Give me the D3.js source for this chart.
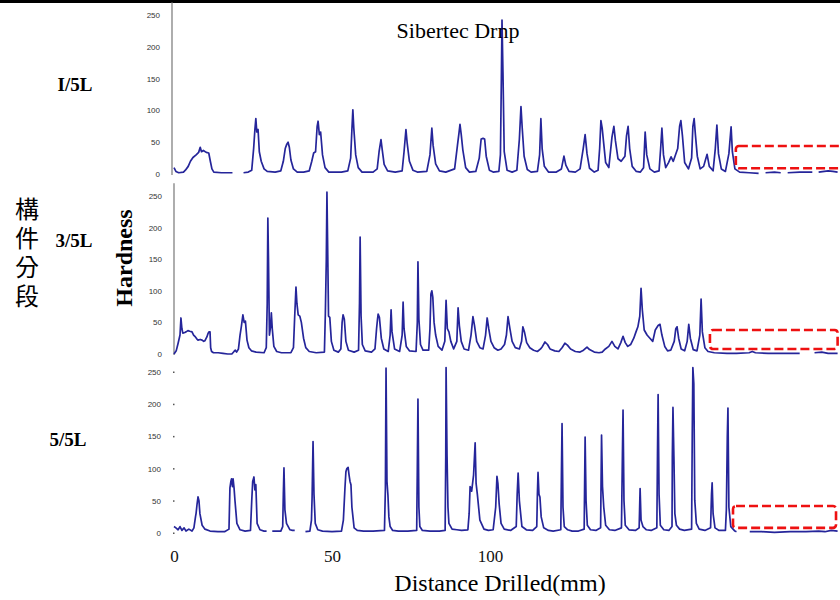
<!DOCTYPE html>
<html>
  <head>
    <meta charset="utf-8" />
    <script src="https://d3js.org/d3.v7.min.js"></script>
    <style>
      body { margin: 0; background: #fff; }
    </style>
  </head>
  <body>
    <div id="my_dataviz"></div>

    <script>
      // tick values and labels
      var distTicks = [0, 50, 100];
      var hardTicks = [0, 50, 100, 150, 200, 250];
      var panelLabels = ["I/5L", "3/5L", "5/5L"];
      var sideLabel = "構件分段";

      // hardness traces: [distance mm, hardness], null = gap
      var trace1 = [[0,10],[0.6,4],[1.5,2],[3,3],[3.6,6],[4.5,12],[5.2,20],[6,26],[7,30],[7.8,34],[8.3,42],[8.7,35],[9.3,37],[10.2,34],[11,33],[11.5,20],[12,8],[12.6,3],[15,2],[18.5,2],[18.7,null],[21.8,null],[22,2],[23.5,3],[24.6,6],[25.2,40],[25.6,70],[25.9,87],[26.2,66],[26.6,70],[27,35],[27.6,20],[28.5,8],[29.5,4],[32,3],[33.8,5],[34.6,20],[35.2,40],[35.7,47],[36.1,50],[36.5,42],[37,22],[37.8,8],[39,3],[41,3],[42.8,5],[43.6,20],[44.2,33],[44.8,35],[45.3,75],[45.6,83],[46,62],[46.4,66],[47,30],[47.8,10],[49,3],[53,3],[55,5],[55.9,25],[56.3,70],[56.6,101],[56.9,72],[57.5,30],[58.3,10],[59.5,3],[63,3],[64.3,8],[64.9,35],[65.5,54],[65.9,38],[66.5,15],[67.6,5],[70,3],[72.2,5],[72.8,35],[73.4,70],[73.8,48],[74.5,20],[75.6,6],[77,3],[80,4],[81,30],[81.6,72],[82,45],[82.8,16],[84,5],[86,3],[88.8,8],[89.7,45],[90.2,65],[90.5,78],[90.9,62],[91.4,38],[92.3,10],[93.5,3],[95.5,4],[96.6,25],[97.2,55],[97.8,56],[98.3,55],[98.8,28],[99.8,6],[101,3],[102.8,4],[103.3,30],[103.6,150],[103.8,242],[104.1,160],[104.5,35],[105.4,6],[107,3],[108.5,6],[109.3,55],[109.8,106],[110.2,72],[110.8,28],[111.8,7],[113,3],[115,4],[115.7,30],[116.1,87],[116.5,40],[117.2,12],[118.5,3],[121,3],[122.6,8],[123.4,28],[124,14],[125,4],[127,3],[128.5,8],[129.5,40],[130.1,62],[130.7,32],[131.5,9],[133,3],[134.2,6],[134.7,40],[135.1,84],[135.5,72],[135.9,52],[136.6,18],[137.6,10],[138.6,58],[139.2,75],[139.7,52],[140.5,24],[141.5,20],[142.7,28],[143.2,60],[143.7,75],[144.2,40],[145,12],[146.3,4],[147.6,3],[148.6,10],[149.1,66],[149.6,30],[150.6,8],[152,3],[153.5,5],[154,40],[154.4,72],[154.9,30],[155.6,10],[156.5,18],[157.3,27],[158,20],[159.4,40],[160,75],[160.4,84],[160.9,60],[161.6,18],[162.8,8],[163.8,25],[164.2,75],[164.6,87],[165,62],[165.6,28],[166.5,8],[167.6,12],[168.7,31],[169.4,12],[170.6,5],[171.3,40],[171.8,77],[172.3,32],[173.2,8],[174.5,4],[175.6,32],[176.3,74],[176.7,35],[177.5,8],[179,3],[182,2],[185,1],[185.2,null],[187,null],[187.2,2],[190,3],[192,2],[192.2,null],[194,null],[194.2,2],[198,3],[202,3],[202.2,null],[203.8,null],[204,3],[207,5],[208.5,4],[210,3]];

      var trace3 = [[0,0],[0.7,5],[1.3,17],[1.9,30],[2.2,57],[2.5,40],[2.8,33],[3.4,34],[3.8,35],[4.4,37],[5,36],[5.7,35],[6.2,30],[6.6,28],[7.2,24],[7.6,22],[8.3,23],[8.9,22],[9.4,20],[9.8,21],[10.4,27],[10.8,33],[11.1,35],[11.4,35],[11.6,10],[11.9,4],[12.5,2],[14,2],[15.5,1],[17,0],[18.3,0],[19,4],[19.4,6],[19.8,3],[20.4,8],[20.9,30],[21.3,43],[21.8,62],[22.2,50],[22.6,52],[23.1,22],[23.7,10],[24.5,5],[26,3],[28.5,2],[29.2,10],[29.5,80],[29.7,215],[29.9,150],[30.2,30],[30.6,45],[30.8,65],[31.1,40],[31.6,12],[32.5,4],[34,2],[37,2],[37.8,10],[38.2,60],[38.6,106],[38.9,80],[39.3,62],[39.8,60],[40.3,50],[41,25],[41.7,10],[42.8,4],[45,2],[47.6,3],[47.9,65],[48.2,150],[48.4,256],[48.6,180],[48.9,60],[49.3,58],[49.8,20],[50.6,6],[52,3],[52.8,8],[53.2,50],[53.5,62],[53.9,55],[54.4,20],[55.2,6],[57,3],[58.4,6],[58.7,80],[58.9,185],[59.2,60],[59.6,15],[60.5,5],[62.5,3],[63.6,8],[64.1,40],[64.4,55],[64.6,63],[65,58],[65.6,25],[66.4,8],[67.8,4],[68.4,30],[68.7,70],[69,35],[69.8,8],[71.4,4],[72.2,30],[72.5,82],[72.8,40],[73.5,12],[74.5,5],[76.6,4],[77,50],[77.2,146],[77.5,55],[78,15],[78.8,6],[80.6,6],[81,40],[81.3,95],[81.6,100],[81.9,90],[82.3,50],[82.8,30],[83.6,12],[84.8,6],[85.7,20],[86.1,85],[86.5,40],[87,35],[87.6,20],[88.5,8],[89.5,20],[89.9,73],[90.3,45],[90.9,20],[91.8,8],[93.2,6],[94,30],[94.6,59],[95.1,45],[95.8,20],[96.8,10],[97.8,8],[98.6,30],[99.1,57],[99.6,40],[100.3,20],[101.3,10],[102.5,6],[103.5,8],[104.6,15],[105.2,30],[105.7,59],[106.3,40],[107,20],[108,10],[109.3,8],[110,20],[110.4,43],[110.9,35],[111.6,18],[112.6,10],[113.8,6],[115,4],[116,8],[116.6,12],[117.4,19],[118.2,15],[119,8],[120.5,5],[121.8,4],[122.8,10],[123.7,17],[124.5,14],[125.5,8],[127,4],[128.5,3],[129.6,6],[130.7,11],[131.5,7],[133,3],[134.5,2],[135.5,3],[136.5,8],[137.6,12],[138.6,20],[139.5,12],[140.5,8],[141.4,18],[142.1,28],[142.8,18],[143.6,12],[144.5,15],[145.5,25],[146.2,35],[146.8,43],[147.4,60],[147.8,104],[148.2,70],[148.8,38],[149.7,30],[150.6,25],[151.5,20],[152.3,38],[153.2,45],[153.8,47],[154.4,30],[155.3,12],[156.2,5],[157.2,6],[158.3,20],[158.8,40],[159.2,43],[159.7,25],[160.5,8],[161.6,5],[162.4,20],[162.9,47],[163.4,25],[164.3,7],[165.5,5],[166.4,30],[166.8,87],[167.2,35],[168,10],[169,4],[171,2],[175,1],[178,1],[182,2],[183,4],[184,2],[188,1],[194,1],[198,1],[198.2,null],[202.5,null],[202.7,2],[205,3],[207,1],[210,1]];

      var trace5 = [[0,10],[0.6,8],[1.3,5],[1.9,10],[2.5,4],[3.2,8],[3.8,3],[4.7,6],[5.7,3],[6.3,8],[6.8,25],[7,31],[7.3,45],[7.6,56],[7.9,50],[8.2,30],[8.9,12],[9.8,6],[11.4,3],[13.9,2],[16,2],[17.4,6],[17.7,70],[18,80],[18.2,84],[18.5,72],[18.7,84],[19,70],[19.3,50],[19.9,15],[20.9,5],[22.5,3],[24.2,4],[24.6,50],[24.9,80],[25.3,87],[25.6,67],[25.9,75],[26.3,15],[27.2,5],[28.5,3],[29.3,3],[29.4,null],[31,null],[31.1,3],[33.8,3],[34.4,10],[34.6,60],[34.8,101],[35.1,36],[35.6,15],[36.7,5],[37.5,4],[38.2,4],[38.3,null],[41.5,null],[41.6,2],[43,3],[43.5,20],[43.7,55],[44,142],[44.3,60],[44.7,15],[45.5,5],[47,3],[50,2],[53,3],[53.6,20],[54.1,70],[54.4,95],[54.7,100],[55.1,102],[55.4,90],[55.7,80],[56,75],[56.3,40],[57,8],[58,4],[60,3],[63,3],[66.6,4],[66.9,70],[67.1,256],[67.4,80],[67.7,59],[68,25],[68.4,10],[69.2,4],[71,3],[74,3],[76.8,4],[77,100],[77.2,208],[77.5,40],[77.8,10],[78.6,4],[81,3],[84,3],[85.8,4],[86,120],[86.1,257],[86.4,121],[86.7,40],[87,15],[88,6],[89.5,5],[91,4],[93,5],[93.4,30],[93.7,72],[94.2,65],[94.8,90],[95.3,140],[95.6,77],[96,60],[96.8,20],[98.1,6],[99.5,4],[101,5],[101.8,40],[102.2,88],[102.5,77],[102.9,45],[103.5,15],[104.5,6],[106.5,4],[108.3,10],[108.6,60],[108.9,93],[109.3,50],[110.1,10],[111.5,5],[113.5,4],[114.8,10],[115,60],[115.2,94],[115.5,60],[115.8,56],[116.2,25],[117,8],[118.5,4],[120,3],[122.4,5],[122.6,90],[122.8,170],[123.1,40],[123.5,10],[124.6,5],[126,3],[128,3],[129.8,6],[130.1,149],[130.4,50],[130.8,12],[131.8,5],[133.5,4],[135,8],[135.3,152],[135.6,72],[136,40],[136.6,12],[137.8,5],[139.5,4],[141.6,8],[141.9,120],[142.1,191],[142.4,50],[142.8,12],[144,5],[146,4],[147.2,8],[147.5,69],[147.8,20],[148.4,10],[149.5,5],[151,4],[152.8,8],[153,120],[153.2,215],[153.5,60],[153.9,12],[155,5],[156.6,4],[157.6,10],[157.7,118],[157.9,195],[158.2,118],[158.5,30],[159,12],[160,6],[161.5,4],[163.8,6],[164,150],[164.2,257],[164.5,232],[164.8,51],[165.3,15],[166.2,6],[168,4],[169.8,8],[170.1,60],[170.3,78],[170.6,30],[171.2,8],[172.5,4],[174.5,4],[174.8,36],[175.1,150],[175.3,194],[175.6,40],[176.2,10],[177.5,3],[178,2],[178.2,null],[182,null],[182.2,2],[186,2],[190,1],[195,2],[200,2],[204,3],[206,2],[208,4],[210,3]];

      // dashed red boxes marking the tail of each trace: [x0 mm, x1 mm, hardness low, hardness high]
      var boxes = [[177.8, 214, 9, 44], [169.6, 210, 8, 38], [176.9, 209.5, 8, 42]];

      var width = 840, height = 600;

      var svg = d3
        .select("#my_dataviz")
        .append("svg")
        .attr("width", width)
        .attr("height", height)
        .style("font-family", "'Liberation Serif', serif");

      svg.append("rect").attr("width", width).attr("height", height).attr("fill", "#fff");
      // dark strip along the top edge of the scan
      svg.append("rect").attr("width", width).attr("height", 3).attr("fill", "#000");

      var x = d3.scaleLinear().domain([0, 210]).range([174, 837.6]);

      var panels = [
        { data: trace1, y0: 174, y1: 15, axisX: 172, axisLine: true, labelY: 91, labelX: 75 },
        { data: trace3, y0: 354, y1: 196, axisX: 174, axisLine: true, labelY: 247, labelX: 74 },
        { data: trace5, y0: 533, y1: 372, axisX: 173, axisLine: false, labelY: 446, labelX: 68 }
      ];

      panels.forEach(function (p, i) {
        var y = d3.scaleLinear().domain([0, 250]).range([p.y0, p.y1]);

        // y axis, tick labels only
        var ax = svg
          .append("g")
          .attr("transform", "translate(" + p.axisX + ",0)")
          .call(d3.axisLeft(y).tickValues(hardTicks).tickSize(0).tickPadding(12));
        ax.select(".domain").remove();
        ax.selectAll(".tick text")
          .style("font-family", "'Liberation Sans', sans-serif")
          .style("font-size", "8px")
          .attr("fill", "#333");

        if (p.axisLine) {
          svg
            .append("line")
            .attr("x1", p.axisX).attr("x2", p.axisX)
            .attr("y1", y(270)).attr("y2", y(0) + 1)
            .attr("stroke", "#777")
            .attr("stroke-width", 1.2);
        } else {
          svg
            .selectAll(null)
            .data(hardTicks)
            .enter()
            .append("rect")
            .attr("x", p.axisX)
            .attr("y", function (d) { return y(d) - 0.5; })
            .attr("width", 1.5)
            .attr("height", 1.5)
            .attr("fill", "#555");
        }

        var line = d3
          .line()
          .defined(function (d) { return d[1] !== null; })
          .x(function (d) { return x(d[0]); })
          .y(function (d) { return y(d[1]); });

        svg
          .append("path")
          .datum(p.data)
          .attr("fill", "none")
          .attr("stroke", "#25259a")
          .attr("stroke-width", 1.7)
          .attr("stroke-linejoin", "round")
          .attr("d", line);

        var b = boxes[i];
        svg
          .append("rect")
          .attr("x", x(b[0]))
          .attr("y", y(b[3]))
          .attr("width", x(b[1]) - x(b[0]))
          .attr("height", y(b[2]) - y(b[3]))
          .attr("rx", 3)
          .attr("fill", "none")
          .attr("stroke", "#ee1111")
          .attr("stroke-width", 2.6)
          .attr("stroke-dasharray", "9,4");

        svg
          .append("text")
          .attr("x", p.labelX)
          .attr("y", p.labelY)
          .attr("text-anchor", "middle")
          .style("font-size", "19px")
          .style("font-weight", "bold")
          .text(panelLabels[i]);
      });

      // x axis labels under the bottom panel
      var xa = svg
        .append("g")
        .attr("transform", "translate(0,550)")
        .call(d3.axisBottom(x).tickValues(distTicks).tickSize(0).tickPadding(0).tickFormat(d3.format("d")));
      xa.select(".domain").remove();
      xa.selectAll(".tick text")
        .style("font-family", "'Liberation Serif', serif")
        .style("font-size", "17px")
        .attr("fill", "#111");

      svg
        .append("text")
        .attr("x", 500)
        .attr("y", 591)
        .attr("text-anchor", "middle")
        .style("font-size", "24px")
        .text("Distance Drilled(mm)");

      svg
        .append("text")
        .attr("x", 458)
        .attr("y", 38)
        .attr("text-anchor", "middle")
        .style("font-size", "22px")
        .text("Sibertec Drnp");

      svg
        .append("text")
        .attr("transform", "translate(132,258) rotate(-90)")
        .attr("text-anchor", "middle")
        .style("font-size", "24px")
        .style("font-weight", "bold")
        .text("Hardness");

      // vertical CJK label as one text run
      svg
        .append("text")
        .attr("x", 27)
        .attr("y", 197)
        .style("writing-mode", "vertical-rl")
        .style("font-family", "'Noto Sans CJK TC', sans-serif")
        .style("font-size", "24px")
        .style("letter-spacing", "5px")
        .text(sideLabel);
    </script>
  </body>
</html>
